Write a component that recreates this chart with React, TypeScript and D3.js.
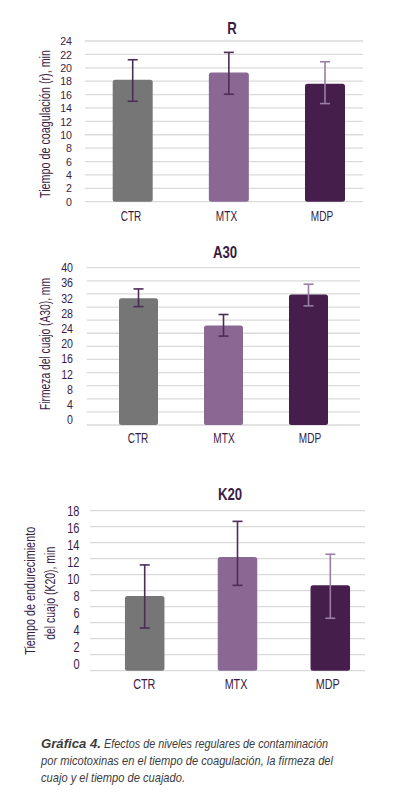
import * as d3 from "d3";

const categories = ["CTR", "MTX", "MDP"];

// R: tiempo de coagulación
const rMeans = [18.2, 19.3, 17.6];
const rLow = [15.0, 16.05, 14.65];
const rHigh = [21.2, 22.3, 20.9];
const rTickLabels = [0, 2, 4, 6, 8, 10, 12, 14, 16, 18, 20, 22, 24];

// A30: firmeza del cuajo
const a30Means = [32.2, 25.3, 33.2];
const a30Low = [30.1, 22.6, 30.3];
const a30High = [34.6, 28.1, 35.8];
const a30TickLabels = [0, 4, 8, 12, 16, 20, 24, 28, 32, 36, 40];

// K20: tiempo de endurecimiento
const k20Means = [8.4, 12.8, 9.6];
const k20Low = [4.8, 9.6, 5.9];
const k20High = [11.9, 16.8, 13.1];
const k20TickLabels = [0, 2, 4, 6, 8, 10, 12, 14, 16, 18];

const BAR_COLORS = ["#767676", "#8a6894", "#461e4b"];
const ERR_COLORS = ["#4b2d56", "#4b2d56", "#9a7ea4"];
const TEXT = "#3a1c44";
const GRID = "#dadada";
const FONT = "'Liberation Sans', Arial, sans-serif";

// narrow text: the original uses a condensed face, so squeeze horizontally
function NText({ x, y, sx, children, ...rest }: any) {
  return (
    <g transform={`translate(${x},${y}) scale(${sx},1)`}>
      <text x={0} y={0} {...rest}>
        {children}
      </text>
    </g>
  );
}

interface PanelProps {
  title: string;
  yTitle: string[];
  means: number[];
  low: number[];
  high: number[];
  tickLabels: number[];
  max: number;
  gridCount: number;
  layout: {
    top: number;
    bottom: number;
    gridX: [number, number];
    barX: [number, number];
    barW: number;
    labelX: [number, number];
    tickRight: number;
    tickTop: number;
    tickBottom: number;
    tickSize: number;
    tickSx: number;
    titleX: number;
    titleY: number;
    xLabelY: number;
    xLabelSize: number;
    yTitleX: number[];
    yTitleY: number[];
    yTitleLen: number[];
  };
}

function Panel({ title, yTitle, means, low, high, tickLabels, max, gridCount, layout: L }: PanelProps) {
  const y = d3.scaleLinear().domain([0, max]).range([L.bottom, L.top]);
  const yLabel = d3
    .scaleLinear()
    .domain([0, d3.max(tickLabels) || max])
    .range([L.tickBottom, L.tickTop]);
  const xBar = d3.scalePoint<string>().domain(categories).range(L.barX);
  const xLab = d3.scalePoint<string>().domain(categories).range(L.labelX);
  const gridVals = d3.range(gridCount).map((i) => (i * max) / (gridCount - 1));

  return (
    <g fontFamily={FONT}>
      {/* gridlines */}
      {gridVals.map((v, i) => (
        <line key={i} x1={L.gridX[0]} x2={L.gridX[1]} y1={y(v)} y2={y(v)} stroke={GRID} strokeWidth={1.3} />
      ))}
      {/* tick labels */}
      {tickLabels.map((t) => (
        <NText
          key={t}
          x={L.tickRight}
          y={yLabel(t)}
          sx={L.tickSx}
          dy="0.36em"
          textAnchor="end"
          fontSize={L.tickSize}
          fill={TEXT}
        >
          {t}
        </NText>
      ))}
      {/* bars */}
      {categories.map((c, i) => (
        <rect
          key={c}
          x={(xBar(c) || 0) - L.barW / 2}
          y={y(means[i])}
          width={L.barW}
          height={y(0) - y(means[i])}
          rx={2.5}
          fill={BAR_COLORS[i]}
        />
      ))}
      {/* error bars */}
      {categories.map((c, i) => {
        const cx = xBar(c) || 0;
        return (
          <g key={c} stroke={ERR_COLORS[i]} strokeWidth={1.6}>
            <line x1={cx} x2={cx} y1={y(high[i])} y2={y(low[i])} />
            <line x1={cx - 5} x2={cx + 5} y1={y(high[i])} y2={y(high[i])} />
            <line x1={cx - 5} x2={cx + 5} y1={y(low[i])} y2={y(low[i])} />
          </g>
        );
      })}
      {/* category labels */}
      {categories.map((c) => (
        <NText key={c} x={xLab(c)} y={L.xLabelY} sx={0.72} textAnchor="middle" fontSize={L.xLabelSize} fill={TEXT}>
          {c}
        </NText>
      ))}
      {/* title */}
      <NText x={L.titleX} y={L.titleY} sx={0.8} textAnchor="middle" fontSize={16.5} fontWeight="bold" fill={TEXT}>
        {title}
      </NText>
      {/* y-axis title */}
      {yTitle.map((line, i) => (
        <text
          key={i}
          transform={`translate(${L.yTitleX[i]},${L.yTitleY[i]}) rotate(-90)`}
          textAnchor="middle"
          dy="0.36em"
          fontSize={14}
          fill={TEXT}
          textLength={L.yTitleLen[i]}
          lengthAdjust="spacingAndGlyphs"
        >
          {line}
        </text>
      ))}
    </g>
  );
}

export default function App() {
  return (
    <svg
      width={398}
      height={800}
      style={{ position: "absolute", left: 0, top: 0, background: "#ffffff" }}
    >
      <Panel
        title="R"
        yTitle={["Tiempo de coagulación (r), min"]}
        means={rMeans}
        low={rLow}
        high={rHigh}
        tickLabels={rTickLabels}
        max={24}
        gridCount={13}
        layout={{
          top: 41,
          bottom: 201.7,
          gridX: [85, 363],
          barX: [132.7, 325],
          barW: 40,
          labelX: [131, 322],
          tickRight: 72,
          tickTop: 41,
          tickBottom: 201.7,
          tickSize: 11.6,
          tickSx: 0.92,
          titleX: 232,
          titleY: 33.5,
          xLabelY: 220.7,
          xLabelSize: 14,
          yTitleX: [44.7],
          yTitleY: [124],
          yTitleLen: [148],
        }}
      />
      <Panel
        title="A30"
        yTitle={["Firmeza del cuajo (A30), mm"]}
        means={a30Means}
        low={a30Low}
        high={a30High}
        tickLabels={a30TickLabels}
        max={40}
        gridCount={13}
        layout={{
          top: 267.7,
          bottom: 425,
          gridX: [86.7, 360],
          barX: [138.5, 308.5],
          barW: 39,
          labelX: [138, 310],
          tickRight: 73,
          tickTop: 267.5,
          tickBottom: 419.5,
          tickSize: 13,
          tickSx: 0.82,
          titleX: 225,
          titleY: 257.7,
          xLabelY: 443.3,
          xLabelSize: 14,
          yTitleX: [44.7],
          yTitleY: [344],
          yTitleLen: [132],
        }}
      />
      <Panel
        title="K20"
        yTitle={["Tiempo de endurecimiento", "del cuajo (K20), min"]}
        means={k20Means}
        low={k20Low}
        high={k20High}
        tickLabels={k20TickLabels}
        max={18}
        gridCount={11}
        layout={{
          top: 510.7,
          bottom: 670.7,
          gridX: [90, 365],
          barX: [144.7, 330.3],
          barW: 39.5,
          labelX: [144.3, 327.7],
          tickRight: 79.5,
          tickTop: 510.8,
          tickBottom: 663.7,
          tickSize: 14.5,
          tickSx: 0.76,
          titleX: 230,
          titleY: 500,
          xLabelY: 689.3,
          xLabelSize: 15,
          yTitleX: [30, 50],
          yTitleY: [590.8, 593.3],
          yTitleLen: [128, 93],
        }}
      />
      <g fontFamily={FONT} fontSize={13} fontStyle="italic" fill="#3c3c3c">
        <text x={41} y={748} fontWeight="bold" textLength={60} lengthAdjust="spacingAndGlyphs">
          Gráfica 4.
        </text>
        <text x={104} y={748} textLength={224} lengthAdjust="spacingAndGlyphs">
          Efectos de niveles regulares de contaminación
        </text>
        <text x={41} y={765} textLength={292} lengthAdjust="spacingAndGlyphs">
          por micotoxinas en el tiempo de coagulación, la firmeza del
        </text>
        <text x={41} y={782} textLength={144} lengthAdjust="spacingAndGlyphs">
          cuajo y el tiempo de cuajado.
        </text>
      </g>
    </svg>
  );
}
